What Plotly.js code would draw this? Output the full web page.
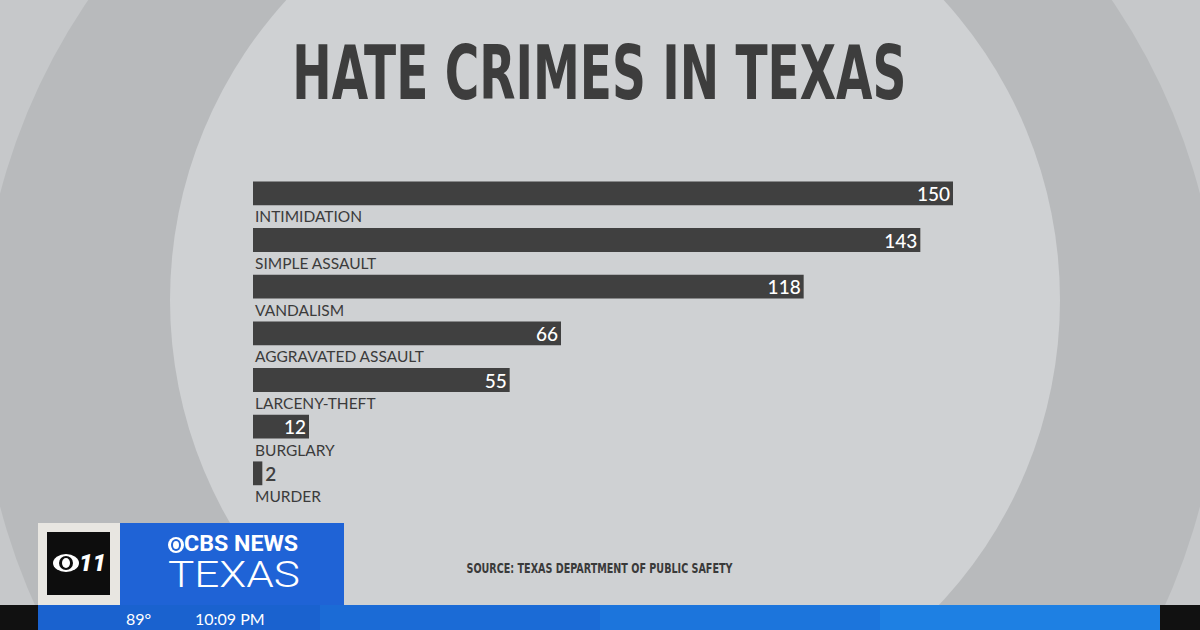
<!DOCTYPE html>
<html>
<head>
<meta charset="utf-8">
<script src="https://cdn.plot.ly/plotly-3.0.1.min.js"></script>
<style>html,body{margin:0;padding:0;background:#c6c8ca;}#chart{width:1200px;height:630px;}</style>
</head>
<body>
<div id="chart"></div>
<script>
// ---- data ----
const categories = ["INTIMIDATION", "SIMPLE ASSAULT", "VANDALISM", "AGGRAVATED ASSAULT", "LARCENY-THEFT", "BURGLARY", "MURDER"];
const counts = [150, 143, 118, 66, 55, 12, 2];
const titleText = "HATE CRIMES IN TEXAS";
const sourceText = "SOURCE: TEXAS DEPARTMENT OF PUBLIC SAFETY";

// ---- layout geometry (pixels) ----
const W = 1200, H = 630, ML = 253, MR = 247, MT = 170, MB = 110;
const PW = W - ML - MR, PH = H - MT - MB;
const px = x => (x - ML) / PW;
const py = y => (H - MB - y) / PH;
function rect(x0, y0, x1, y1, fill, layer, type) {
  return {type: type || 'rect', xref: 'paper', yref: 'paper', x0: px(x0), x1: px(x1), y0: py(y1), y1: py(y0),
          fillcolor: fill, line: {width: 0}, layer: layer || 'above'};
}
function note(text, x, y, font, xanchor) {
  return {text: text, xref: 'paper', yref: 'paper', x: px(x), y: py(y), showarrow: false,
          xanchor: xanchor || 'center', yanchor: 'middle', font: font};
}

const idx = categories.map((c, i) => i);

const trace = {
  type: 'bar', orientation: 'h',
  x: counts, y: idx,
  width: 0.51,
  marker: {color: '#404040', line: {width: 0}},
  text: counts.map(String),
  textposition: 'auto',
  insidetextanchor: 'end',
  textangle: 0,
  constraintext: 'none',
  insidetextfont: {family: 'Lato, "Noto Sans", sans-serif', size: 19, color: '#ffffff', weight: 500},
  outsidetextfont: {family: 'Lato, "Noto Sans", sans-serif', size: 19, color: '#404040', weight: 600},
  cliponaxis: false,
  hoverinfo: 'skip'
};

const labelAnns = categories.map((c, i) => ({
  text: c, x: 0, xref: 'x', y: i, yref: 'y', yshift: -23, xanchor: 'left', yanchor: 'middle',
  showarrow: false, font: {family: 'Lato, "Noto Sans", sans-serif', size: 15.5, color: '#3b3b3b'}
}));

const shapes = [
  // background rings
  rect(-20, -270, 1220, 970, '#b8babc', 'below', 'circle'),
  rect(170, -145, 1060, 745, '#cfd1d3', 'below', 'circle'),
  // bottom bar
  rect(0, 605, 38, 630, '#111111'),
  rect(38, 605, 320, 630, '#1a62cf'),
  rect(320, 605, 600, 630, '#1b6bd6'),
  rect(600, 605, 880, 630, '#1c75dc'),
  rect(880, 605, 1160, 630, '#1e80e3'),
  rect(1160, 605, 1200, 630, '#111111'),
  // logo boxes
  rect(38, 523, 120, 605, '#e8e6e1'),
  rect(47, 532, 110, 595, '#0d0d0d'),
  rect(120, 523, 344, 605, '#1f63d6'),
  // eye in black square
  rect(53, 554, 79, 572, '#ffffff', 'above', 'circle'),
  rect(59, 556, 73, 570, '#0d0d0d', 'above', 'circle'),
  rect(62, 558, 70, 568, '#ffffff', 'above', 'circle'),
  // small eye by CBS NEWS
  rect(168, 537, 184, 553, '#ffffff', 'above', 'circle'),
  rect(171, 539, 181, 551, '#1f63d6', 'above', 'circle'),
  rect(173, 541, 179, 549, '#ffffff', 'above', 'circle')
];

const overlayAnns = [
  note(titleText, 599, 73, {family: '"Liberation Sans Narrow", "DejaVu Sans Condensed", "Liberation Sans", sans-serif', size: 74, color: '#3d3d3d', weight: 700}),
  note(sourceText, 600, 568, {family: '"Liberation Sans Narrow", "DejaVu Sans Condensed", "Liberation Sans", sans-serif', size: 14, color: '#3a3a3a', weight: 700}),
  note('11', 92, 563, {family: 'Roboto, sans-serif', size: 24, color: '#ffffff', weight: 900, style: 'italic'}),
  note('CBS NEWS', 241, 543, {family: 'Roboto, "Noto Sans", sans-serif', size: 22, color: '#ffffff', weight: 700}),
  note('TEXAS', 234, 575, {family: 'Roboto, "Noto Sans", sans-serif', size: 36, color: '#ffffff', weight: 300}),
  note('89°', 124, 618, {family: 'Lato, "Noto Sans", sans-serif', size: 16, color: '#ffffff'}, 'left'),
  note('10:09 PM', 193, 618, {family: 'Lato, "Noto Sans", sans-serif', size: 16, color: '#ffffff'}, 'left')
];

const layout = {
  width: W, height: H,
  margin: {l: ML, r: MR, t: MT, b: MB, pad: 0},
  paper_bgcolor: '#c6c8ca', plot_bgcolor: 'rgba(0,0,0,0)',
  showlegend: false,
  xaxis: {range: [0, 150], visible: false, fixedrange: true},
  yaxis: {range: [7, -0.5], visible: false, fixedrange: true},
  shapes: shapes,
  annotations: labelAnns.concat(overlayAnns)
};

Plotly.newPlot('chart', [trace], layout, {displayModeBar: false, staticPlot: true}).then(() => {
  const fits = {};
  fits[titleText] = 614;
  fits[sourceText] = 266;
  fits['TEXAS'] = 132;
  fits['CBS NEWS'] = 114;
  document.querySelectorAll('#chart text.annotation-text').forEach(t => {
    const w = fits[t.textContent];
    if (w) { t.setAttribute('textLength', w); t.setAttribute('lengthAdjust', 'spacingAndGlyphs'); }
  });
});
</script>
</body>
</html>
